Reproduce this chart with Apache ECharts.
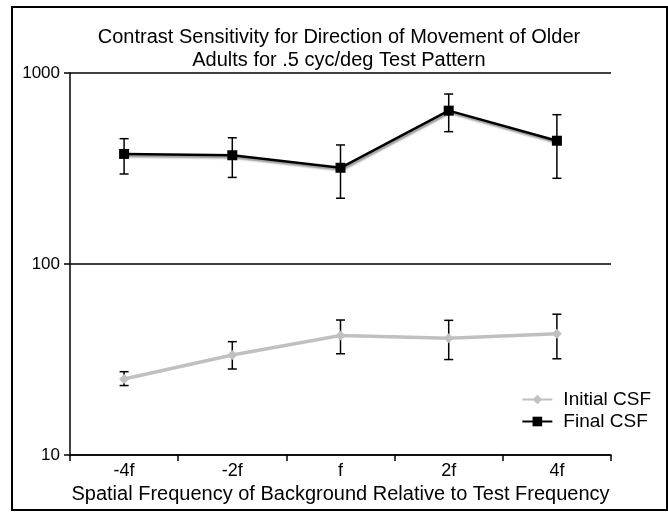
<!DOCTYPE html>
<html>
<head>
<meta charset="utf-8">
<script src="https://cdn.jsdelivr.net/npm/echarts@6/dist/echarts.min.js"></script>
<style>
  html, body { margin: 0; padding: 0; background: #fff; }
  #chart { width: 668px; height: 512px; }
</style>
</head>
<body>
<div id="chart"></div>
<script>
// categories along x
var categories = ['-4f', '-2f', 'f', '2f', '4f'];

// Initial CSF (mean, lower, upper)
var initialMean = [25.0, 33.4, 42.2, 40.8, 43.1];
var initialLow  = [23.1, 28.2, 33.9, 31.6, 31.9];
var initialHigh = [27.3, 39.2, 50.9, 50.7, 54.6];

// Final CSF (mean, lower, upper)
var finalMean = [377, 371, 319, 635, 442];
var finalLow  = [296, 284, 221, 493, 281];
var finalHigh = [453, 458, 420, 776, 605];

var font = '"Liberation Sans", Arial, sans-serif';

function errData(low, high) {
  return low.map(function (v, i) {
    return [i, v, high[i]];
  });
}

// error bar with caps
function renderErr(params, api) {
  var lo = api.coord([api.value(0), api.value(1)]);
  var hi = api.coord([api.value(0), api.value(2)]);
  var x = lo[0], w = 4.5;
  var st = { stroke: '#000', lineWidth: 1.5 };
  return {
    type: 'group',
    children: [
      { type: 'line', shape: { x1: x, y1: lo[1], x2: x, y2: hi[1] }, style: st },
      { type: 'line', shape: { x1: x - w, y1: lo[1], x2: x + w, y2: lo[1] }, style: st },
      { type: 'line', shape: { x1: x - w, y1: hi[1], x2: x + w, y2: hi[1] }, style: st }
    ]
  };
}

var myChart = echarts.init(document.getElementById('chart'));

var option = {
  animation: false,
  backgroundColor: '#fff',
  textStyle: { fontFamily: font },
  title: {
    text: 'Contrast Sensitivity for Direction of Movement of Older\nAdults for .5 cyc/deg Test Pattern',
    left: 334,
    textAlign: 'center',
    top: 21,
    textStyle: { fontFamily: font, fontSize: 20, fontWeight: 'normal', color: '#000', lineHeight: 23 }
  },
  graphic: [{
    type: 'rect',
    shape: { x: 12, y: 7, width: 655, height: 503 },
    style: { fill: 'none', stroke: '#000', lineWidth: 2 },
    silent: true
  }],
  legend: {
    orient: 'vertical',
    right: 12,
    top: 385,
    itemWidth: 30,
    itemHeight: 12,
    itemGap: 3,
    data: ['Initial CSF', 'Final CSF'],
    textStyle: { fontFamily: font, fontSize: 19, color: '#000', padding: [0, 0, 0, 6] }
  },
  grid: { left: 70, right: 57, top: 73, bottom: 57 },
  xAxis: {
    type: 'category',
    data: categories,
    boundaryGap: true,
    name: 'Spatial Frequency of Background Relative to Test Frequency',
    nameLocation: 'middle',
    nameGap: 26,
    nameTextStyle: { fontFamily: font, fontSize: 20, color: '#000' },
    axisLine: { lineStyle: { color: '#000', width: 1.5 } },
    axisTick: { show: true, length: 6, lineStyle: { color: '#000', width: 1.5 } },
    axisLabel: { fontFamily: font, fontSize: 18, color: '#000', margin: 7 },
    splitLine: { show: false }
  },
  yAxis: {
    type: 'log',
    logBase: 10,
    min: 10,
    max: 1000,
    axisLine: { show: true, lineStyle: { color: '#000', width: 1.5 } },
    axisTick: { show: true, length: 6, lineStyle: { color: '#000', width: 1.5 } },
    minorTick: { show: false },
    axisLabel: {
      fontFamily: font, fontSize: 17, color: '#000', margin: 10,
      formatter: function (v) { return String(v); }
    },
    splitLine: { show: true, lineStyle: { color: '#000', width: 1.5 } }
  },
  series: [
    {
      name: 'Initial CSF err',
      type: 'custom',
      renderItem: renderErr,
      data: errData(initialLow, initialHigh),
      encode: { x: 0, y: [1, 2] },
      z: 1
    },
    {
      name: 'Final CSF err',
      type: 'custom',
      renderItem: renderErr,
      data: errData(finalLow, finalHigh),
      encode: { x: 0, y: [1, 2] },
      z: 1
    },
    {
      name: 'Initial CSF',
      type: 'line',
      data: initialMean,
      symbol: 'diamond',
      symbolSize: 10,
      color: '#c0c0c0',
      lineStyle: { color: '#c0c0c0', width: 3.5 },
      itemStyle: { color: '#c0c0c0' },
      z: 3
    },
    {
      name: 'Final CSF',
      type: 'line',
      data: finalMean,
      symbol: 'rect',
      symbolSize: 10,
      color: '#000',
      lineStyle: {
        color: '#000', width: 2.5,
        shadowColor: 'rgba(0,0,0,0.45)', shadowBlur: 2, shadowOffsetX: 1, shadowOffsetY: 2
      },
      itemStyle: { color: '#000' },
      z: 3
    }
  ]
};

myChart.setOption(option);
</script>
</body>
</html>
